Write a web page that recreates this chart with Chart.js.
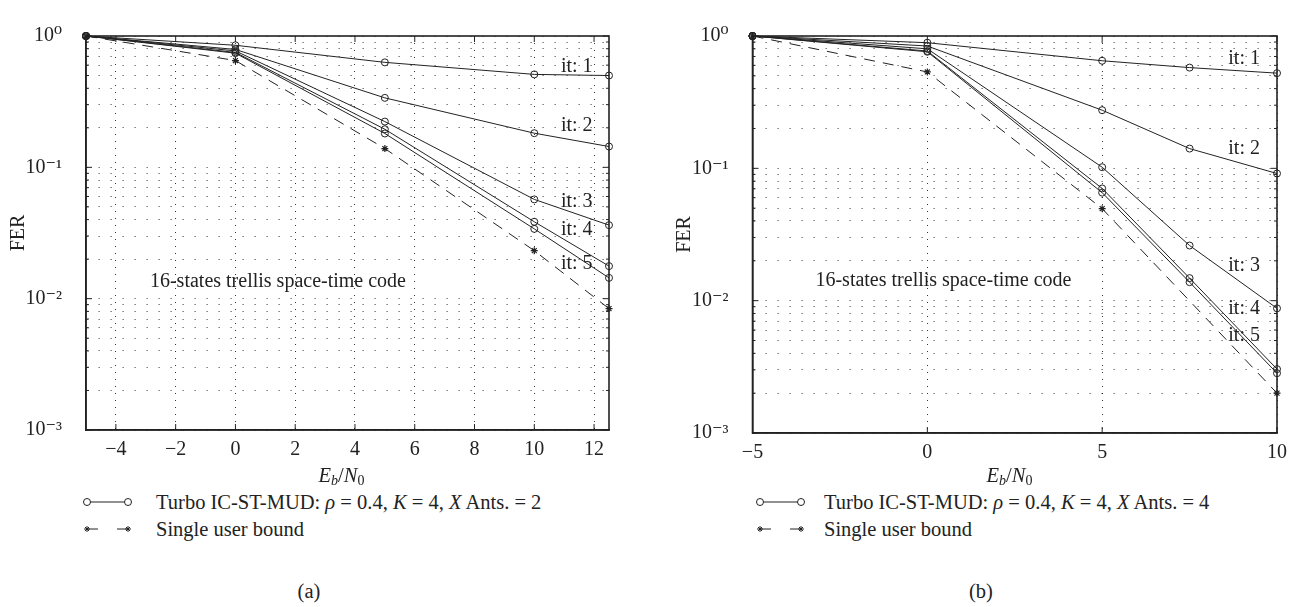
<!DOCTYPE html>
<html>
<head>
<meta charset="utf-8">
<script src="https://cdn.jsdelivr.net/npm/chart.js@4.4.0/dist/chart.umd.min.js"></script>
<style>
  body { margin: 0; background: #fff; width: 1299px; height: 607px; position: relative; overflow: hidden;
         font-family: 'Liberation Serif', 'DejaVu Serif', serif; color: #222; }
  canvas { position: absolute; top: 0; }
  .lbl { position: absolute; font-size: 20.5px; line-height: 22px; white-space: nowrap; }
  .ctr { text-align: center; }
  sub { font-size: 14px; vertical-align: -3px; line-height: 0; }
  svg { position: absolute; }
</style>
</head>
<body>
<canvas id="chart-a" width="650" height="470" style="left:0"></canvas>
<canvas id="chart-b" width="649" height="473" style="left:650px"></canvas>

<div class="lbl ctr" style="left:80px; width:523px; top:464px"><i>E<sub>b</sub></i>/<i>N</i><sub>0</sub></div>
<div class="lbl ctr" style="left:748px; width:523px; top:464px"><i>E<sub>b</sub></i>/<i>N</i><sub>0</sub></div>

<!-- legend (a) -->
<svg style="left:82px; top:491px" width="52" height="22">
  <line x1="5" y1="11" x2="46" y2="11" stroke="#222" stroke-width="1"/>
  <circle cx="5" cy="11" r="3.5" fill="#fff" stroke="#222"/>
  <circle cx="46" cy="11" r="3.5" fill="#fff" stroke="#222"/>
</svg>
<div class="lbl" style="left:156px; top:491px">Turbo IC-ST-MUD: <i>ρ</i> = 0.4, <i>K</i> = 4, <i>X</i> Ants. = 2</div>
<svg style="left:82px; top:518px" width="52" height="22">
  <line x1="5" y1="11" x2="46" y2="11" stroke="#222" stroke-width="1" stroke-dasharray="11,19"/>
  <path d="M2 11h6M5 8v6M3 9l4 4M7 9l-4 4M43 11h6M46 8v6M44 9l4 4M48 9l-4 4" stroke="#222" stroke-width="1"/>
</svg>
<div class="lbl" style="left:156px; top:518px">Single user bound</div>

<!-- legend (b) -->
<svg style="left:755px; top:491px" width="52" height="22">
  <line x1="5" y1="11" x2="46" y2="11" stroke="#222" stroke-width="1"/>
  <circle cx="5" cy="11" r="3.5" fill="#fff" stroke="#222"/>
  <circle cx="46" cy="11" r="3.5" fill="#fff" stroke="#222"/>
</svg>
<div class="lbl" style="left:824px; top:491px">Turbo IC-ST-MUD: <i>ρ</i> = 0.4, <i>K</i> = 4, <i>X</i> Ants. = 4</div>
<svg style="left:755px; top:518px" width="52" height="22">
  <line x1="5" y1="11" x2="46" y2="11" stroke="#222" stroke-width="1" stroke-dasharray="11,19"/>
  <path d="M2 11h6M5 8v6M3 9l4 4M7 9l-4 4M43 11h6M46 8v6M44 9l4 4M48 9l-4 4" stroke="#222" stroke-width="1"/>
</svg>
<div class="lbl" style="left:824px; top:518px">Single user bound</div>

<div class="lbl ctr" style="left:259px; width:100px; top:580px">(a)</div>
<div class="lbl ctr" style="left:931px; width:100px; top:580px">(b)</div>

<script>
const FONT = "'Liberation Serif', 'DejaVu Serif', serif";
const INK = '#222';

// panel (a): 2 receive antennas
const snrA = [-5, 0, 5, 10, 12.5];
const it1A = [1, 0.85, 0.63, 0.51, 0.50];
const it2A = [1, 0.79, 0.338, 0.182, 0.144];
const it3A = [1, 0.77, 0.223, 0.057, 0.0363];
const it4A = [1, 0.75, 0.195, 0.0385, 0.0177];
const it5A = [1, 0.74, 0.181, 0.034, 0.0144];
const boundA = [1, 0.65, 0.139, 0.0232, 0.0084];
const xTicksA = [-4, -2, 0, 2, 4, 6, 8, 10, 12];

// panel (b): 4 receive antennas
const snrB = [-5, 0, 5, 7.5, 10];
const it1B = [1, 0.89, 0.65, 0.577, 0.524];
const it2B = [1, 0.84, 0.275, 0.141, 0.0914];
const it3B = [1, 0.80, 0.102, 0.0261, 0.00875];
const it4B = [1, 0.77, 0.0705, 0.0148, 0.00304];
const it5B = [1, 0.76, 0.0655, 0.0138, 0.00283];
const snrBoundB = [-5, 0, 5, 10];
const boundB = [1, 0.535, 0.0496, 0.002];
const xTicksB = [-5, 0, 5, 10];

const yDecades = [0.001, 0.01, 0.1, 1];
const iterLabels = ['it: 1', 'it: 2', 'it: 3', 'it: 4', 'it: 5'];
const codeLabel = '16-states trellis space-time code';
const iterLabelXA = 11.42;
const iterLabelYA = [0.583, 0.208, 0.0548, 0.0332, 0.0185];
const iterLabelXB = 9.06;
const iterLabelYB = [0.677, 0.14, 0.0185, 0.00875, 0.0054];

// every 1..9 step inside each decade, for the dotted grid
const yGrid = [];
yDecades.slice(0, -1).forEach(d => { for (let m = 1; m < 10; m++) yGrid.push(d * m); });
yGrid.push(1);

const SUP = { '-': '⁻', '0': '⁰', '1': '¹', '2': '²', '3': '³', '4': '⁴', '5': '⁵', '6': '⁶', '7': '⁷', '8': '⁸', '9': '⁹' };
function powLabel(v) {
    const e = Math.log10(v);
    if (Math.abs(e - Math.round(e)) > 1e-9) return '';
    return '10' + String(Math.round(e)).split('').map(c => SUP[c]).join('');
}

function pts(xs, ys) { return xs.map((x, i) => ({ x: x, y: ys[i] })); }

function iterSet(xs, ys) {
    return {
        data: pts(xs, ys), borderColor: INK, borderWidth: 1, tension: 0, clip: false,
        pointStyle: 'circle', pointRadius: 3.5, pointBorderWidth: 1,
        pointBackgroundColor: 'rgba(0,0,0,0)', pointBorderColor: INK,
    };
}
function boundSet(xs, ys) {
    return {
        data: pts(xs, ys), borderColor: INK, borderWidth: 1, borderDash: [11, 8], tension: 0, clip: false,
        pointStyle: 'star', pointRadius: 3.5, pointBorderWidth: 1.2, pointBorderColor: INK,
    };
}

// box round the plot, with MATLAB style inward ticks
const boxPlugin = {
    id: 'box',
    afterDraw(chart) {
        const { ctx, chartArea: a, scales } = chart;
        ctx.save();
        ctx.strokeStyle = INK;
        ctx.lineWidth = 1;
        ctx.beginPath();
        scales.x.ticks.forEach(t => {
            const px = scales.x.getPixelForValue(t.value);
            ctx.moveTo(px, a.bottom); ctx.lineTo(px, a.bottom - 6);
            ctx.moveTo(px, a.top); ctx.lineTo(px, a.top + 6);
        });
        scales.y.ticks.forEach(t => {
            const py = scales.y.getPixelForValue(t.value);
            const len = powLabel(t.value) ? 6 : 3;
            ctx.moveTo(a.left, py); ctx.lineTo(a.left + len, py);
            ctx.moveTo(a.right, py); ctx.lineTo(a.right - len, py);
        });
        ctx.stroke();
        ctx.lineWidth = 1.6;
        ctx.strokeRect(a.left, a.top, a.width, a.height);
        ctx.restore();
    },
};

// text notes placed in data coordinates
const notesPlugin = {
    id: 'notes',
    afterDatasetsDraw(chart, args, opts) {
        const { ctx, scales } = chart;
        ctx.save();
        ctx.font = '20px ' + FONT;
        ctx.fillStyle = INK;
        ctx.textBaseline = 'middle';
        (opts.items || []).forEach(n => {
            ctx.textAlign = n.align;
            ctx.fillText(n.text, scales.x.getPixelForValue(n.x), scales.y.getPixelForValue(n.y));
        });
        ctx.restore();
    },
};
Chart.register(boxPlugin, notesPlugin);

function makeChart(id, datasets, xMin, xMax, xTicks, yWidth, pad, titlePad, notes) {
    return new Chart(document.getElementById(id), {
        type: 'line',
        data: { datasets: datasets },
        options: {
            responsive: false,
            animation: false,
            layout: { padding: pad },
            plugins: { legend: { display: false }, tooltip: { enabled: false }, notes: { items: notes } },
            scales: {
                x: {
                    type: 'linear', min: xMin, max: xMax,
                    afterBuildTicks: s => { s.ticks = xTicks.map(v => ({ value: v })); },
                    afterFit: s => { s.height = 40; },
                    grid: { color: 'rgba(0,0,0,0.8)', lineWidth: 1, drawTicks: false },
                    border: { color: INK, width: 1.6, dash: [1, 6] },
                    ticks: {
                        padding: 8, color: INK, autoSkip: false, maxRotation: 0,
                        font: { family: FONT, size: 20 },
                        callback: v => (v < 0 ? '\u2212' + Math.abs(v) : String(v)),
                    },
                },
                y: {
                    type: 'logarithmic', min: 0.001, max: 1,
                    afterBuildTicks: s => { s.ticks = yGrid.map(v => ({ value: v })); },
                    afterFit: s => { s.width = yWidth; },
                    grid: { color: 'rgba(0,0,0,0.8)', lineWidth: 1, drawTicks: false },
                    border: { color: INK, width: 1.6, dash: [1, 11] },
                    ticks: {
                        padding: 24, color: INK, autoSkip: false,
                        font: { family: FONT, size: 20 },
                        callback: v => powLabel(v),
                    },
                    title: {
                        display: true, text: 'FER', color: INK,
                        font: { family: FONT, size: 20 }, padding: { top: titlePad },
                    },
                },
            },
        },
    });
}

function notesFor(xIt, yIt, xCode, yCode) {
    const items = iterLabels.map((t, i) => ({ text: t, x: xIt, y: yIt[i], align: 'center' }));
    items.push({ text: codeLabel, x: xCode, y: yCode, align: 'left' });
    return items;
}

makeChart('chart-a',
    [iterSet(snrA, it1A), iterSet(snrA, it2A), iterSet(snrA, it3A), iterSet(snrA, it4A), iterSet(snrA, it5A),
     boundSet(snrA, boundA)],
    -5, 12.5, xTicksA, 86, { top: 16, right: 41, left: 0, bottom: 0 }, 7,
    notesFor(iterLabelXA, iterLabelYA, -2.86, 0.0135));

makeChart('chart-b',
    [iterSet(snrB, it1B), iterSet(snrB, it2B), iterSet(snrB, it3B), iterSet(snrB, it4B), iterSet(snrB, it5B),
     boundSet(snrBoundB, boundB)],
    -5, 10, xTicksB, 102.5, { top: 19, right: 22, left: 0, bottom: 0 }, 23,
    notesFor(iterLabelXB, iterLabelYB, -3.2, 0.01426));
</script>
</body>
</html>
